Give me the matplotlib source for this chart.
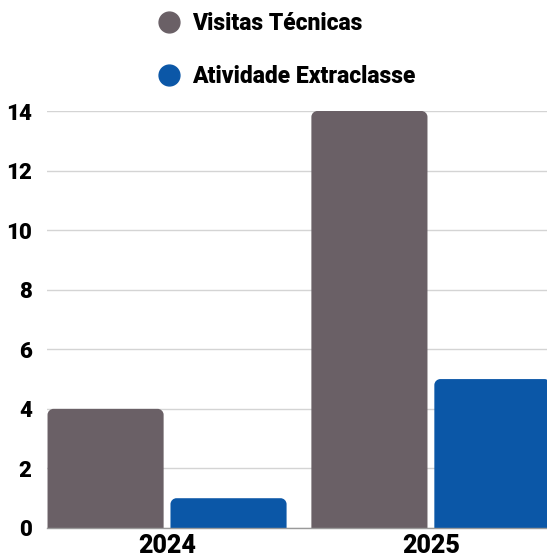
import matplotlib
matplotlib.use("Agg")
import matplotlib.pyplot as plt
from matplotlib.path import Path
from matplotlib.patches import PathPatch
from matplotlib.lines import Line2D
import numpy as np

categories = ["2024", "2025"]
series_names = ["Visitas Técnicas", "Atividade Extraclasse"]
visitas = [4, 14]
extraclasse = [1, 5]
yticks = [0, 2, 4, 6, 8, 10, 12, 14]
colors = ["#6a6066", "#0b57a7"]

W, H = 547, 557
fig = plt.figure(figsize=(W / 100, H / 100), dpi=100)
ax = fig.add_axes([47 / W, 1 - 528 / H, 1 - 47 / W, (528 - 111) / H])
ax.set_xlim(-0.455, 1.44)
ax.set_ylim(0, 14)

font = "Roboto"
x = np.arange(len(categories))
width = 0.44
offset = 0.233

def rounded_bar(ax, xc, h, w, color):
    px_per_x = (ax.get_position().width * W) / (ax.get_xlim()[1] - ax.get_xlim()[0])
    px_per_y = (ax.get_position().height * H) / (ax.get_ylim()[1] - ax.get_ylim()[0])
    r = 6
    rx, ry = r / px_per_x, r / px_per_y
    x0, x1 = xc - w / 2, xc + w / 2
    k = 0.55
    verts = [(x0, 0), (x0, h - ry),
             (x0, h - ry + k * ry), (x0 + rx - k * rx, h), (x0 + rx, h),
             (x1 - rx, h),
             (x1 - rx + k * rx, h), (x1, h - ry + k * ry), (x1, h - ry),
             (x1, 0), (x0, 0)]
    codes = [Path.MOVETO, Path.LINETO,
             Path.CURVE4, Path.CURVE4, Path.CURVE4,
             Path.LINETO,
             Path.CURVE4, Path.CURVE4, Path.CURVE4,
             Path.LINETO, Path.CLOSEPOLY]
    ax.add_patch(PathPatch(Path(verts, codes), facecolor=color, edgecolor="none", zorder=3))

for i in range(len(categories)):
    rounded_bar(ax, x[i] - offset, visitas[i], width, colors[0])
    rounded_bar(ax, x[i] + offset, extraclasse[i], width, colors[1])

ax.set_yticks(yticks)
ax.set_yticklabels([str(t) for t in yticks], fontsize=16, fontweight="black", fontfamily=font)
ax.set_xticks(x)
ax.set_xticklabels(categories, fontsize=18, fontweight="black", fontfamily=font)
ax.tick_params(axis="y", length=0, pad=11)
ax.tick_params(axis="x", length=0, pad=4)
ax.grid(axis="y", color="#d4d4d4", linewidth=1, zorder=0)
for s in ["top", "right", "left"]:
    ax.spines[s].set_visible(False)
ax.spines["bottom"].set_color("#9a9a9a")
ax.spines["bottom"].set_linewidth(1)
ax.spines["bottom"].set_zorder(4)
ax.set_axisbelow(True)

handles = [Line2D([], [], marker="o", linestyle="none", markersize=15,
                  markerfacecolor=c, markeredgecolor=c) for c in colors]
fig.legend(handles, series_names, loc="upper left", bbox_to_anchor=(135 / W, 1 + 9 / H),
           frameon=False, handlelength=1.2, handletextpad=0.4, labelspacing=1.34,
           prop={"family": font, "weight": "black", "size": 16.5})

fig.savefig("out.png", dpi=100)
